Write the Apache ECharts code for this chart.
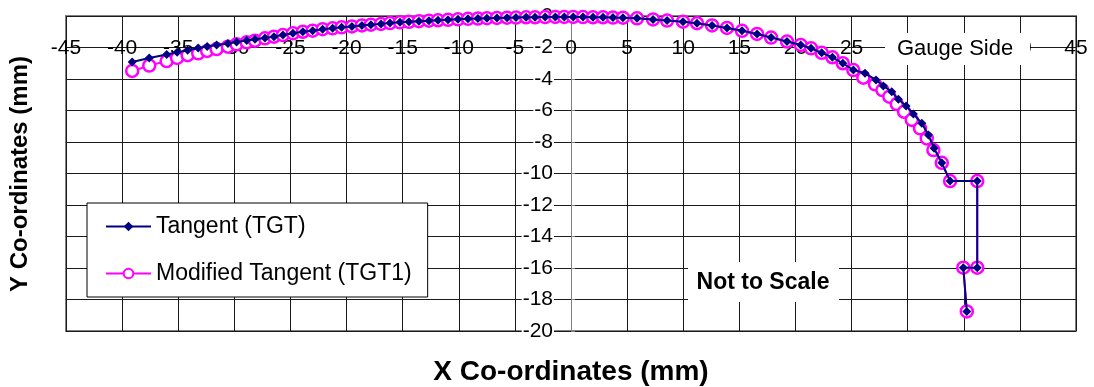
<!DOCTYPE html>
<html><head><meta charset="utf-8">
<script src="https://cdn.jsdelivr.net/npm/echarts@6/dist/echarts.min.js"></script>
<style>html,body{margin:0;padding:0;background:#fff}#c{width:1094px;height:387px}</style>
</head><body><div id="c"></div>
<script>
// ---- data ----
const xTicks = [-45,-40,-35,-30,-25,-20,-15,-10,-5,0,5,10,15,20,25,30,35,40,45];
const seriesNames = ['Tangent (TGT)', 'Modified Tangent (TGT1)'];
const tgtX = [-39.1,-37.58,-36.03,-35.1,-34.16,-33.22,-32.42,-31.58,-30.57,-29.8,-28.9,-28.16,-27.27,-26.47,
  -25.67,-24.78,-23.89,-23.02,-22.13,-21.24,-20.44,-19.52,-18.63,-17.83,-16.93,-16.13,-15.24,-14.44,-13.55,-12.66,
  -11.85,-10.96,-10.07,-9.18,-8.29,-7.49,-6.6,-5.7,-4.9,-4.0,-3.2,-2.3,-1.4,-0.6,0.2,1.07,1.96,2.85,3.74,4.63,
  5.88,7.31,8.56,9.98,11.23,12.57,13.9,15.24,16.58,17.83,19.25,20.47,21.39,22.34,23.29,24.22,25.16,
  26.2,27.18,27.83,28.58,29.17,29.86,30.51,31.26,31.85,32.35,33.04,33.78,36.2,36.2,34.96,35.27];
const tgtY = [-2.92,-2.67,-2.44,-2.30,-2.17,-2.03,-1.94,-1.84,-1.74,-1.65,-1.56,-1.48,-1.39,-1.31,
  -1.21,-1.10,-1.00,-0.93,-0.84,-0.78,-0.72,-0.66,-0.60,-0.55,-0.50,-0.45,-0.40,-0.37,-0.33,-0.30,
  -0.27,-0.24,-0.21,-0.18,-0.16,-0.14,-0.12,-0.11,-0.10,-0.08,-0.08,-0.07,-0.06,-0.06,-0.06,-0.07,-0.08,-0.08,-0.10,-0.11,
  -0.15,-0.22,-0.29,-0.36,-0.46,-0.60,-0.76,-0.94,-1.14,-1.37,-1.62,-1.84,-2.05,-2.34,-2.62,-3.0,-3.43,
  -3.64,-4.06,-4.44,-4.81,-5.29,-5.71,-6.22,-6.81,-7.56,-8.40,-9.32,-10.48,-10.48,-15.98,-15.98,-18.76];
const tgt1X = [-39.1,-37.58,-36.03,-35.1,-34.16,-33.22,-32.42,-31.58,-30.57,-29.8,-28.9,-28.16,-27.27,-26.47,
  -25.67,-24.78,-23.89,-23.02,-22.13,-21.24,-20.44,-19.52,-18.63,-17.83,-16.93,-16.13,-15.24,-14.44,-13.55,-12.66,
  -11.85,-10.96,-10.07,-9.18,-8.29,-7.49,-6.6,-5.7,-4.9,-4.0,-3.2,-2.3,-1.4,-0.6,0.2,1.07,1.96,2.85,3.74,4.63,
  5.88,7.31,8.56,9.98,11.23,12.57,13.9,15.24,16.58,17.83,19.25,20.47,21.39,22.34,23.29,24.22,25.16,
  26.05,27.09,27.75,28.37,29.03,29.68,30.37,31.1,31.7,32.29,33.04,33.78,36.2,36.2,34.96,35.27];
const tgt1Y = [-3.49,-3.15,-2.86,-2.66,-2.49,-2.37,-2.22,-2.10,-1.95,-1.80,-1.67,-1.57,-1.42,-1.31,
  -1.21,-1.10,-1.00,-0.93,-0.84,-0.78,-0.72,-0.66,-0.60,-0.55,-0.50,-0.45,-0.40,-0.37,-0.33,-0.30,
  -0.27,-0.24,-0.21,-0.18,-0.16,-0.14,-0.12,-0.11,-0.10,-0.08,-0.08,-0.07,-0.06,-0.06,-0.06,-0.07,-0.08,-0.08,-0.10,-0.11,
  -0.15,-0.22,-0.29,-0.36,-0.46,-0.60,-0.76,-0.94,-1.14,-1.37,-1.62,-1.84,-2.05,-2.34,-2.62,-3.0,-3.43,
  -3.92,-4.34,-4.70,-5.12,-5.59,-6.08,-6.60,-7.13,-7.77,-8.51,-9.32,-10.48,-10.48,-15.98,-15.98,-18.76];

const F = "'Liberation Sans', Arial, sans-serif";
const zip = (xs, ys) => xs.map((x, i) => [x, ys[i]]);
const chart = echarts.init(document.getElementById('c'), null, {renderer: 'canvas'});
chart.setOption({
  animation: false,
  backgroundColor: '#fff',
  grid: {left: 66, top: 16, width: 1010, height: 315, show: true, borderColor: '#808080', borderWidth: 2, backgroundColor: 'transparent'},
  xAxis: {
    type: 'value', min: -45, max: 45, interval: 5, position: 'top',
    axisLine: {show: false, onZero: false}, axisTick: {show: false},
    splitLine: {show: true, lineStyle: {color: '#1a1a1a', width: 1}},
    axisLabel: {margin: -32, verticalAlign: 'middle', fontSize: 21, color: '#000', fontFamily: F,
      showMinLabel: true, showMaxLabel: true}
  },
  yAxis: {
    type: 'value', min: -20, max: 0, interval: 2, position: 'left', offset: -505,
    axisLine: {show: true, onZero: false, lineStyle: {color: '#808080', width: 1}},
    axisTick: {show: true, inside: true, length: 4, lineStyle: {color: '#808080'}},
    splitLine: {show: true, lineStyle: {color: '#1a1a1a', width: 1}},
    axisLabel: {margin: 17, fontSize: 21, color: '#000', fontFamily: F, backgroundColor: '#fff', padding: [0, 1]}
  },
  legend: {
    orient: 'vertical', left: 87, top: 203,
    data: seriesNames,
    backgroundColor: '#fff', borderColor: '#000', borderWidth: 1,
    padding: [12, 16, 12, 18], itemGap: 24, itemWidth: 45, itemHeight: 12,
    textStyle: {fontSize: 23, color: '#000', fontFamily: F, lineHeight: 23},
    z: 20
  },
  series: [
    {
      name: seriesNames[1], type: 'line', data: zip(tgt1X, tgt1Y),
      symbol: 'circle', symbolSize: 12,
      itemStyle: {color: '#fff', borderColor: '#FF00FF', borderWidth: 2.5},
      lineStyle: {color: '#FF00FF', width: 2}, z: 3
    },
    {
      name: seriesNames[0], type: 'line', data: zip(tgtX, tgtY),
      symbol: 'diamond', symbolSize: 9,
      itemStyle: {color: '#000080'},
      lineStyle: {color: '#000080', width: 2}, z: 4
    }
  ],
  graphic: [
    {type: 'rect', z: 50, shape: {x: 885, y: 33, width: 145, height: 32}, style: {fill: '#fff'}},
    {type: 'text', z: 51, x: 897, y: 49, style: {text: 'Gauge Side', font: '22px ' + F, fill: '#000', verticalAlign: 'middle'}},
    {type: 'rect', z: 50, shape: {x: 688, y: 262, width: 151, height: 40}, style: {fill: '#fff'}},
    {type: 'text', z: 51, x: 763, y: 283, style: {text: 'Not to Scale', font: 'bold 23px ' + F, fill: '#000', align: 'center', verticalAlign: 'middle'}},
    {type: 'text', z: 51, x: 571, y: 372, style: {text: 'X Co-ordinates (mm)', font: 'bold 28px ' + F, fill: '#000', align: 'center', verticalAlign: 'middle'}},
    {type: 'text', z: 51, x: 20, y: 174, rotation: Math.PI / 2, style: {text: 'Y Co-ordinates (mm)', font: 'bold 24px ' + F, fill: '#000', align: 'center', verticalAlign: 'middle'}}
  ]
});
</script></body></html>
